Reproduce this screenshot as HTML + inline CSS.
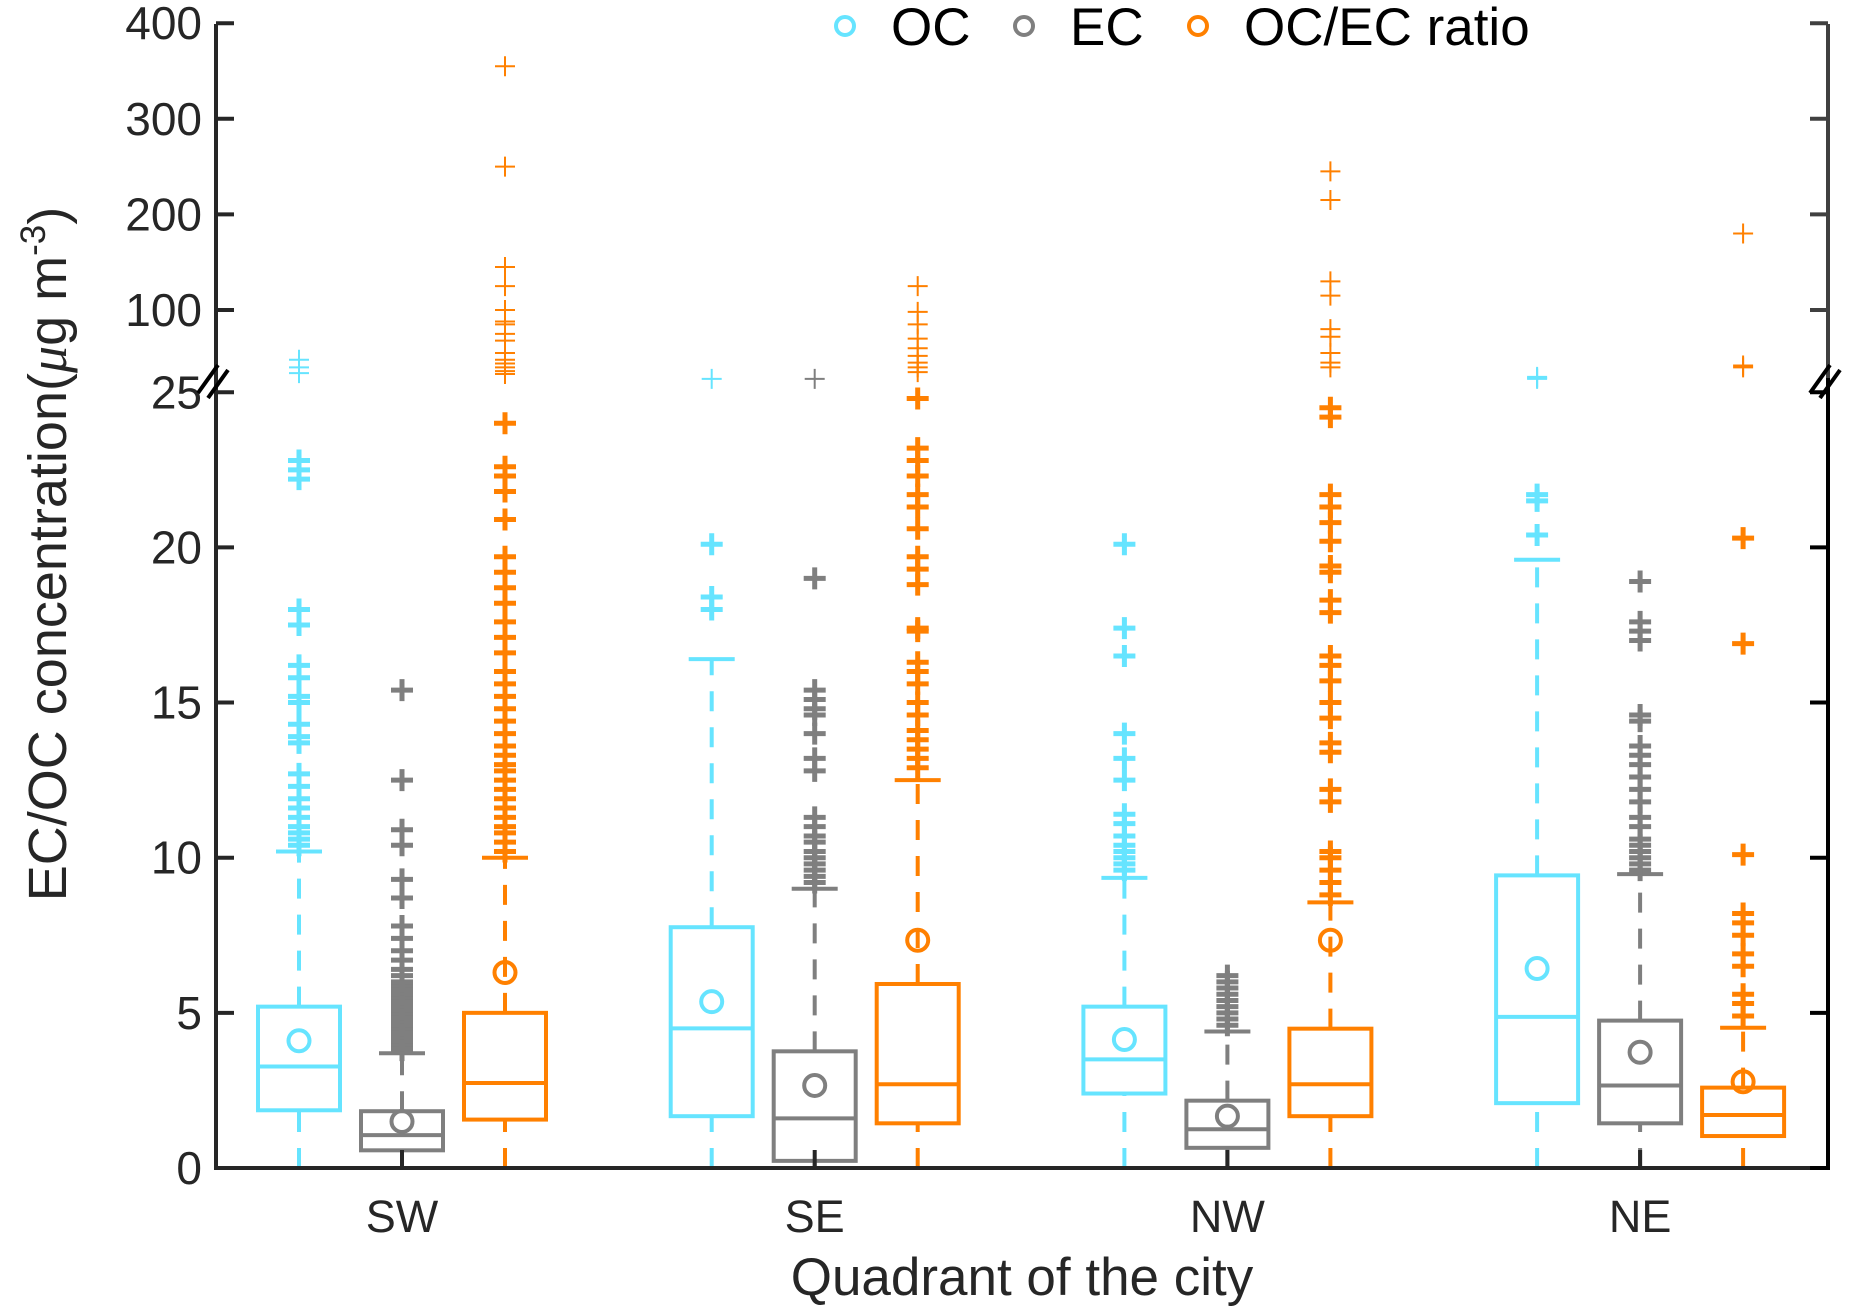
<!DOCTYPE html>
<html><head><meta charset="utf-8"><style>
html,body{margin:0;padding:0;background:#fff;}
svg{display:block;font-family:"Liberation Sans",Arial,sans-serif;}
</style></head><body>
<svg id="chart" width="1850" height="1313" viewBox="0 0 1850 1313"></svg>
<script>
const categories = ["SW","SE","NW","NE"];
const seriesNames = ["OC","EC","OC/EC ratio"];
const seriesColors = ["#66e4ff","#7f7f7f","#ff8000"];
// per series, per category: [lowerWhisker, q1, median, q3, upperWhisker, mean]
const ocStats = [[0,1.86,3.27,5.2,10.2,4.1],[0,1.67,4.5,7.76,16.4,5.36],[0,2.4,3.5,5.2,9.35,4.14],[0,2.09,4.87,9.43,19.6,6.43]];
const ecStats = [[0,0.57,1.06,1.83,3.7,1.5],[0,0.23,1.6,3.76,9.0,2.66],[0,0.65,1.25,2.17,4.4,1.67],[0,1.44,2.66,4.75,9.47,3.73]];
const ratioStats = [[0,1.56,2.74,5.0,10.0,6.3],[0,1.44,2.7,5.93,12.5,7.34],[0,1.67,2.7,4.49,8.56,7.34],[0,1.03,1.71,2.59,4.52,2.78]];
const ocOutliers = [
 [10.4,10.6,10.8,11,11.3,11.6,11.9,12.3,12.7,13.7,13.9,14.3,15,15.2,15.8,16.2,17.5,18,22.2,22.5,22.8,34,40,48],
 [18,18.4,20.1,28],
 [9.6,9.8,10,10.2,10.4,10.7,11.1,11.4,12.5,13.2,14,16.5,17.4,20.1],
 [20.4,21.5,21.7,28,29,30]];
const ecOutliers = [
 [3.8,3.9,4,4.1,4.2,4.3,4.4,4.5,4.6,4.7,4.8,4.9,5,5.1,5.2,5.3,5.4,5.5,5.6,5.7,5.8,5.9,6,6.2,6.4,6.7,7,7.4,7.8,8.7,9.3,10.4,10.9,12.5,15.4],
 [9.2,9.4,9.6,9.8,10,10.2,10.5,10.7,11,11.3,12.8,13.2,14,14.6,14.8,15.1,15.4,19,28],
 [4.6,4.8,5,5.2,5.4,5.6,5.8,6,6.2],
 [9.6,9.8,10,10.2,10.4,10.6,11,11.3,11.8,12.2,12.6,13,13.3,13.6,14.4,14.6,17,17.3,17.6,18.9]];
const ratioOutliers = [
 [10.2,10.5,10.8,11,11.3,11.6,11.9,12.2,12.5,12.8,13,13.3,13.6,14,14.4,14.8,15.2,15.6,16,16.6,17.1,17.6,18.2,18.7,19.2,19.7,20.9,21.8,22.3,22.6,24,33,36,40,44,48,55,68,75,85,88,100,125,145,250,355],
 [12.9,13.2,13.5,13.8,14.1,14.6,15,15.6,16,16.3,17.3,17.4,18.8,19.3,19.7,20.6,21.3,21.7,22.3,22.8,23.2,24.8,35,40,45,52,60,70,85,98,125],
 [8.8,9.2,9.6,10,10.2,11.8,12.2,13.4,13.7,14.5,15,15.7,16.2,16.5,17.9,18.3,19.2,19.4,20.2,20.8,21.3,21.7,24.2,24.5,40,45,55,72,80,115,130,215,245],
 [4.9,5.3,5.6,6.5,6.9,7.5,7.9,8.2,10.1,16.9,20.3,40,42,180]];
const lowerTicks = [0,5,10,15,20,25];
const upperTicks = [100,200,300,400];

const allStats = [ocStats, ecStats, ratioStats];
const allOutliers = [ocOutliers, ecOutliers, ratioOutliers];
const NS = "http://www.w3.org/2000/svg";
const svg = document.getElementById("chart");
const X0 = 216, X1 = 1828, Y0 = 1168, YTOP = 24;
function yScale(v){ return v <= 25 ? Y0 - v*31.03 : 310 - (v-100)*0.956; }
function xScale(ci, si){ return 402 + ci*412.7 + (si-1)*103; }
function el(tag, attrs, parent){ const e=document.createElementNS(NS,tag); for(const k in attrs) e.setAttribute(k,attrs[k]); (parent||svg).appendChild(e); return e; }

allStats.forEach((stats, si) => {
  const col = seriesColors[si];
  stats.forEach((s, ci) => {
    const g = el("g", {});
    
    
    const cx = xScale(ci, si), hw = 41, cw = 23;
    el("line",{x1:cx,x2:cx,y1:yScale(s[3]),y2:yScale(s[4]),stroke:col,"stroke-width":4,"stroke-dasharray":"20,16"},g);
    el("line",{x1:cx,x2:cx,y1:yScale(s[0]),y2:yScale(s[1]),stroke:col,"stroke-width":4,"stroke-dasharray":"20,16"},g);
    el("line",{x1:cx-cw,x2:cx+cw,y1:yScale(s[4]),y2:yScale(s[4]),stroke:col,"stroke-width":4},g);
    el("rect",{x:cx-hw,y:yScale(s[3]),width:2*hw,height:yScale(s[1])-yScale(s[3]),fill:"none",stroke:col,"stroke-width":4},g);
    el("line",{x1:cx-hw,x2:cx+hw,y1:yScale(s[2]),y2:yScale(s[2]),stroke:col,"stroke-width":4},g);
    const m = el("circle",{cx:cx,cy:yScale(s[5]),r:10.5,fill:"none",stroke:col,"stroke-width":4},g);
    
    
    allOutliers[si][ci].forEach(v => {
      const y = yScale(v), up = v > 25, sz = up ? 10 : 11, w = up ? 2 : 5;
      const p = el("path",{d:`M${cx-sz},${y}H${cx+sz}M${cx},${y-sz}V${y+sz}`,stroke:col,"stroke-width":w,fill:"none"},g);
      
      
    });
  });
});

const ax = el("g",{});


el("line",{x1:X0,x2:X0,y1:YTOP,y2:Y0+2,stroke:"#262626","stroke-width":4},ax);
el("line",{x1:X0-2,x2:X1+2,y1:Y0,y2:Y0,stroke:"#262626","stroke-width":4},ax);
el("line",{x1:X1,x2:X1,y1:YTOP,y2:378,stroke:"#404040","stroke-width":4},ax);
el("line",{x1:X1,x2:X1,y1:378,y2:Y0+2,stroke:"#000","stroke-width":4},ax);
lowerTicks.forEach(t => {
  const y = yScale(t);
  el("line",{x1:X0,x2:X0+18,y1:y,y2:y,stroke:"#262626","stroke-width":4},ax);
  el("line",{x1:X1-18,x2:X1,y1:y,y2:y,stroke:"#000","stroke-width":4},ax);
  const tx = el("text",{x:X0-14,y:y+16,"text-anchor":"end","font-size":46,fill:"#262626"},ax);
  tx.textContent = t;
  
  
});
upperTicks.forEach(t => {
  const y = yScale(t);
  el("line",{x1:X0,x2:X0+18,y1:y,y2:y,stroke:"#262626","stroke-width":4},ax);
  el("line",{x1:X1-18,x2:X1,y1:y,y2:y,stroke:"#404040","stroke-width":4},ax);
  const tx = el("text",{x:X0-14,y:y+16,"text-anchor":"end","font-size":46,fill:"#262626"},ax);
  tx.textContent = t;
  
  
});
[X0, X1].forEach(x => {
  el("path",{d:`M${x-18},${393}L${x+2},${365}M${x-8},${398}L${x+12},${370}`,stroke:"#000","stroke-width":4,fill:"none"},ax);
});
categories.forEach((c, ci) => {
  const cx = xScale(ci,1);
  el("line",{x1:cx,x2:cx,y1:Y0-18,y2:Y0,stroke:"#262626","stroke-width":4},ax);
  const tx = el("text",{x:cx,y:1232,"text-anchor":"middle","font-size":45,fill:"#262626"},ax);
  tx.textContent = c;
  
  
});
const xt = el("text",{x:1022,y:1295,"text-anchor":"middle","font-size":53,fill:"#262626"});
xt.textContent = "Quadrant of the city";


const yt = el("text",{x:0,y:0,transform:"translate(66,554) rotate(-90)","text-anchor":"middle","font-size":54,fill:"#262626"});
yt.innerHTML = 'EC/OC concentration(<tspan font-family="Liberation Serif" font-style="italic">μ</tspan>g m<tspan dy="-21" font-size="35">-3</tspan><tspan dy="21">)</tspan>';



const legX = [845, 1024, 1198];
seriesNames.forEach((n, si) => {
  const g = el("g",{});
  
  
  el("circle",{cx:legX[si],cy:26,r:9,fill:"none",stroke:seriesColors[si],"stroke-width":4},g);
  const t = el("text",{x:legX[si]+46,y:45,"font-size":53,fill:"#000"},g);
  t.textContent = n;
});
</script>
</body></html>
